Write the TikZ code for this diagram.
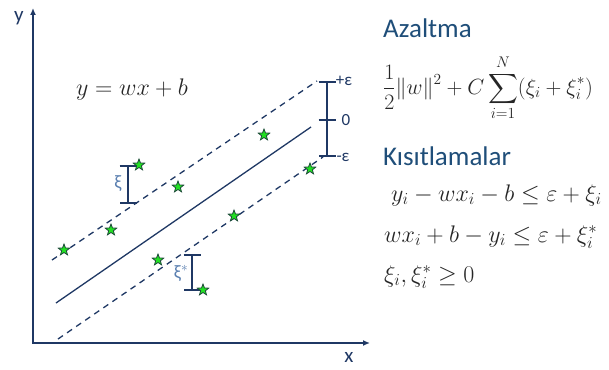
\RequirePackage{fix-cm}
\documentclass[tikz,border=0pt]{standalone}
\usepackage{amsmath}
\usepackage{fontspec}
\setmainfont{Carlito}
\usetikzlibrary{shapes.geometric,arrows.meta}
\definecolor{navy}{HTML}{1F3864}
\definecolor{titleblue}{HTML}{1F4E79}
\definecolor{xiblue}{HTML}{5A7FB0}
\definecolor{stargreen}{HTML}{22E022}
\definecolor{starline}{HTML}{1E4A3A}

\begin{document}
\begin{tikzpicture}
  [x=1pt,y=-1pt,
   axis/.style={draw=navy,line width=2pt,{Latex[length=7pt,width=6pt]}-{Latex[length=7pt,width=6pt]}},
   fitline/.style={draw=navy,line width=1.3pt},
   tube/.style={draw=navy,line width=1.3pt,dash pattern=on 6pt off 5pt},
   errbar/.style={draw=navy,line width=2pt,{Bar[width=17pt]}-{Bar[width=17pt]}},
   pt/.style={star,star points=5,star point ratio=2.4,minimum size=12pt,inner sep=0pt,
              fill=stargreen,draw=starline,line width=0.8pt},
   lbl/.style={text=navy,inner sep=0pt,font=\fontsize{17}{20}\selectfont},
   xilbl/.style={text=xiblue,inner sep=0pt,font=\fontsize{19}{21}\selectfont},
   title/.style={text=titleblue,inner sep=0pt,anchor=west,font=\fontsize{27}{30}\selectfont},
   eq/.style={text=black!85,inner sep=0pt,anchor=west,font=\fontsize{24}{28}\selectfont}]

  \useasboundingbox (0,0) rectangle (609,369);

  % axes
  \coordinate (o) at (33,343);
  \coordinate (ytop) at (33,8);
  \coordinate (xend) at (370,343);
  \draw[axis] (ytop) -- (o) -- (xend);
  \node[text=navy,font=\fontsize{21}{24}\selectfont] (ylab) at (19,18) {y};
  \node[text=navy,font=\fontsize{21}{24}\selectfont] (xlab) at (349,357) {x};

  % regression line and epsilon tube
  \coordinate (f1) at (56,303);
  \coordinate (f2) at (311,127);
  \coordinate (u1) at (52,260);
  \coordinate (u2) at (317,81);
  \coordinate (l1) at (58,339);
  \coordinate (l2) at (323,157);
  \draw[fitline] (f1) -- (f2);
  \draw[tube] (u1) -- (u2);
  \draw[tube] (l1) -- (l2);

  \node[text=black!85,font=\fontsize{24}{28}\selectfont] (model) at (132,89) {$y = wx + b$};

  % tube width
  \coordinate (eps top) at (327,81);
  \coordinate (eps mid) at (327,120);
  \coordinate (eps bot) at (327,157);
  \draw[errbar] (eps top) -- (eps bot);
  \draw[navy,line width=2pt] ([xshift=-8.5pt]eps mid) -- ([xshift=8.5pt]eps mid);
  \node[lbl] (plus) at (344,81) {+ε};
  \node[lbl] (zero) at (346,120) {0};
  \node[lbl] (minus) at (343,157) {-ε};

  % slack variables
  \coordinate (xi top) at (128,165);
  \coordinate (xi bot) at (128,204);
  \draw[errbar] (xi top) -- (xi bot);
  \node[xilbl] (xi) at (118,184) {ξ};
  \coordinate (xis top) at (192,254);
  \coordinate (xis bot) at (192,291);
  \draw[errbar] (xis top) -- (xis bot);
  \node[xilbl] (xis) at (181,273) {ξ$^*$};

  % data points
  \foreach \name/\pos in {s1/{(64,250)}, s2/{(111,230)}, s3/{(139,165)}, s4/{(178,187)},
                          s5/{(264,135)}, s6/{(310,169)}, s7/{(234,216)}, s8/{(158,260)},
                          s9/{(203,290)}}
    \node[pt] (\name) at \pos {};

  % objective and constraints
  \node[title] (azaltma) at (383,28) {Azaltma};
  \node[eq,font=\fontsize{22}{26}\selectfont] (obj) at (383,88)
    {$\displaystyle \frac{1}{2}\|w\|^2 + C\sum_{i=1}^{N}(\xi_i + \xi_i^*)$};
  \node[title] (kisit) at (383,156) {Kısıtlamalar};
  \node[eq] (c1) at (391,195) {$y_i - wx_i - b \le \varepsilon + \xi_i$};
  \node[eq] (c2) at (384,237) {$wx_i + b - y_i \le \varepsilon + \xi_i^*$};
  \node[eq] (c3) at (384,277) {$\xi_i, \xi_i^* \ge 0$};

\end{tikzpicture}
\end{document}
